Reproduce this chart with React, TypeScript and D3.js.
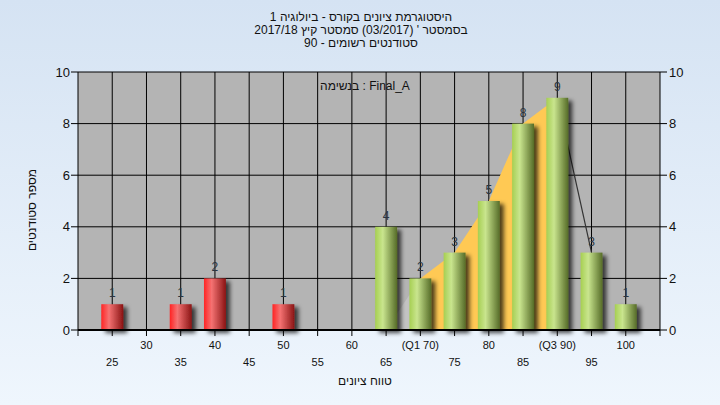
import React from "react";
import * as d3 from "d3";

// histogram data
const categories = [25, 30, 35, 40, 45, 50, 55, 60, 65, 70, 75, 80, 85, 90, 95, 100];
const counts = [1, 0, 1, 2, 0, 1, 0, 0, 4, 2, 3, 5, 8, 9, 3, 1];
const tickLabels = ["25", "30", "35", "40", "45", "50", "55", "60", "65", "(Q1 70)", "75", "80", "85", "(Q3 90)", "95", "100"];
const failLimit = 55; // below this -> red bars

// overlay curve (line through bar tops), quartiles
const curveCats = [65, 70, 75, 80, 85, 90, 95];
const curveVals = [0, 2, 3, 5, 8, 9, 3];
const q1 = 70;
const q3 = 90;

const yTicks = [0, 2, 4, 6, 8, 10];

const titleLines = [
  "היסטוגרמת ציונים בקורס - ביולוגיה 1",
  "בסמסטר ' (03/2017)  סמסטר קיץ 2017/18",
  "סטודנטים רשומים - 90",
];

const W = 720;
const H = 405;
const font = "'Liberation Sans', Arial, sans-serif";

export default function App() {
  const x = d3.scaleLinear().domain([20, 105]).range([78, 660]);
  const y = d3.scaleLinear().domain([0, 10]).range([330, 72]);
  const step = x(25) - x(20);
  const barW = step * 0.64;

  const pts = curveCats.map((c, i) => ({ c, v: curveVals[i] }));
  const area = d3
    .area<{ c: number; v: number }>()
    .x((d) => x(d.c))
    .y0(y(0))
    .y1((d) => y(d.v));
  const line = d3
    .line<{ c: number; v: number }>()
    .x((d) => x(d.c))
    .y((d) => y(d.v));
  const lowPts = pts.filter((d) => d.c <= q1);
  const midPts = pts.filter((d) => d.c >= q1 && d.c <= q3);
  const highPts = pts.filter((d) => d.c >= q3);

  const [x0, x1] = x.range();
  const [yb, yt] = y.range();

  return (
    <svg
      width={W}
      height={H}
      style={{ position: "absolute", left: 0, top: 0 }}
      fontFamily={font}
    >
      <defs>
        <linearGradient id="bg" x1="0" y1="0" x2="0" y2="1">
          <stop offset="0" stopColor="#d5e3f3" />
          <stop offset="1" stopColor="#eff6fd" />
        </linearGradient>
        <linearGradient id="red" x1="0" y1="0" x2="1" y2="0">
          <stop offset="0" stopColor="#ff2424" />
          <stop offset="0.35" stopColor="#f57272" />
          <stop offset="1" stopColor="#8a1414" />
        </linearGradient>
        <linearGradient id="green" x1="0" y1="0" x2="1" y2="0">
          <stop offset="0" stopColor="#a6cf52" />
          <stop offset="0.35" stopColor="#c9e58e" />
          <stop offset="1" stopColor="#566c28" />
        </linearGradient>
        <filter id="shadow" x="-30%" y="-30%" width="170%" height="160%">
          <feDropShadow dx="4" dy="3" stdDeviation="2" floodColor="#000" floodOpacity="0.7" />
        </filter>
      </defs>
      <rect width={W} height={H} fill="url(#bg)" />

      {/* titles */}
      {titleLines.map((t, i) => (
        <text key={i} x={361} y={21 + i * 13} textAnchor="middle" fontSize={12} fill="#111">
          {t}
        </text>
      ))}

      {/* plot background */}
      <rect x={x0} y={yt} width={x1 - x0} height={yb - yt} fill="#b4b4b4" />

      {/* grid */}
      {yTicks.map((t) => (
        <line key={"h" + t} x1={x0} x2={x1} y1={y(t)} y2={y(t)} stroke="#000" strokeWidth={1} />
      ))}
      {categories.map((c) => (
        <line key={"v" + c} x1={x(c)} x2={x(c)} y1={yt} y2={yb} stroke="#000" strokeWidth={1} />
      ))}

      {/* overlay curve */}
      <path d={area(lowPts) || ""} fill="#c3c3c3" />
      <path d={area(midPts) || ""} fill="#ffc954" />
      <path d={line(highPts) || ""} fill="none" stroke="#333" strokeWidth={1.2} />

      <text x={365} y={y(10) + 18} textAnchor="middle" fontSize={12} fill="#111">
        בנשימה : Final_A
      </text>

      {/* bars */}
      {categories.map((c, i) =>
        counts[i] > 0 ? (
          <rect
            key={"b" + c}
            x={x(c) - barW / 2}
            y={y(counts[i])}
            width={barW}
            height={y(0) - y(counts[i])}
            fill={c < failLimit ? "url(#red)" : "url(#green)"}
            filter="url(#shadow)"
          />
        ) : null
      )}
      {categories.map((c, i) =>
        counts[i] > 0 ? (
          <text key={"l" + c} x={x(c)} y={y(counts[i]) - 7} textAnchor="middle" fontSize={12} fill="#2a3440">
            {counts[i]}
          </text>
        ) : null
      )}

      {/* axes */}
      <line x1={x0} x2={x0} y1={yt} y2={yb + 6} stroke="#000" />
      <line x1={x1} x2={x1} y1={yt} y2={yb + 6} stroke="#000" />
      <line x1={x0} x2={x1} y1={yb} y2={yb} stroke="#000" strokeWidth={2} />
      {yTicks.map((t) => (
        <g key={"yt" + t}>
          <line x1={x0 - 7} x2={x0} y1={y(t)} y2={y(t)} stroke="#000" />
          <line x1={x1} x2={x1 + 7} y1={y(t)} y2={y(t)} stroke="#000" />
          <text x={x0 - 8} y={y(t)} dy="0.35em" textAnchor="end" fontSize={13} fill="#111">
            {t}
          </text>
          <text x={x1 + 9} y={y(t)} dy="0.35em" textAnchor="start" fontSize={13} fill="#111">
            {t}
          </text>
        </g>
      ))}
      {categories.map((c, i) => (
        <g key={"xt" + c}>
          <line x1={x(c)} x2={x(c)} y1={yb} y2={yb + 6} stroke="#000" />
          <text x={x(c)} y={i % 2 === 0 ? 366 : 349} textAnchor="middle" fontSize={11} fill="#111">
            {tickLabels[i]}
          </text>
        </g>
      ))}

      <text x={365} y={385} textAnchor="middle" fontSize={12} fill="#111">
        טווח ציונים
      </text>
      <text
        transform={`translate(36,210) rotate(-90)`}
        textAnchor="middle"
        fontSize={12}
        fill="#111"
      >
        מספר סטודנטים
      </text>
    </svg>
  );
}
